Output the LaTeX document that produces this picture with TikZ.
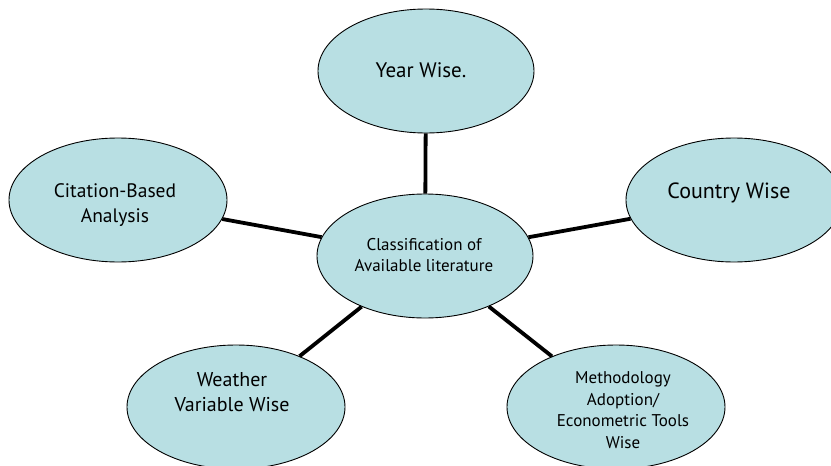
\documentclass[tikz,border=0pt]{standalone}
\usepackage{fontspec}
\setmainfont{PT Sans}
\usetikzlibrary{shapes.geometric}
\definecolor{bubble}{RGB}{184,223,227}
\tikzset{
  bub/.style={ellipse, draw=black, line width=0.9pt, fill=bubble, inner sep=0pt,
              minimum width=216pt, minimum height=124pt},
  conn/.style={draw=black, line width=3.8pt},
  big/.style={align=center, font=\fontsize{20}{25}\selectfont, inner sep=0pt},
  small/.style={align=center, font=\fontsize{17}{21.5}\selectfont, inner sep=0pt}
}
\begin{document}
\begin{tikzpicture}[x=1pt,y=-1pt]
\useasboundingbox (0,0) rectangle (831,466);
\begin{scope}
\clip (0,0) rectangle (831,466);
\node[bub] (year) at (426,71) {};
\node[bub] (cent) at (425,256) {};
\node[bub, minimum width=218pt] (cite) at (118,200) {};
\node[bub] (country) at (734,200) {};
\node[bub, minimum width=218pt] (weather) at (236,407) {};
\node[bub, minimum width=218pt] (method) at (616,407) {};
\path[conn] (year) -- (cent);
\path[conn] (cite) -- (cent);
\path[conn] (country) -- (cent);
\path[conn] (weather) -- (cent);
\path[conn] (method) -- (cent);
\end{scope}
\node[big, font=\fontsize{21}{25}\selectfont] (tyear) at (421,70) {Year Wise.};
\node[big, font=\fontsize{19.5}{25}\selectfont] (tcite) at (115,205) {Citation-Based\\Analysis};
\node[big, font=\fontsize{22}{25}\selectfont] (tcountry) at (729,193) {Country Wise};
\node[small] (tcent) at (424,255) {Classification of\\Available literature};
\node[big] (tweather) at (232,392) {Weather\\Variable Wise};
\node[small] (tmethod) at (623,410) {Methodology\\Adoption/\\Econometric Tools\\Wise};
\end{tikzpicture}
\end{document}
